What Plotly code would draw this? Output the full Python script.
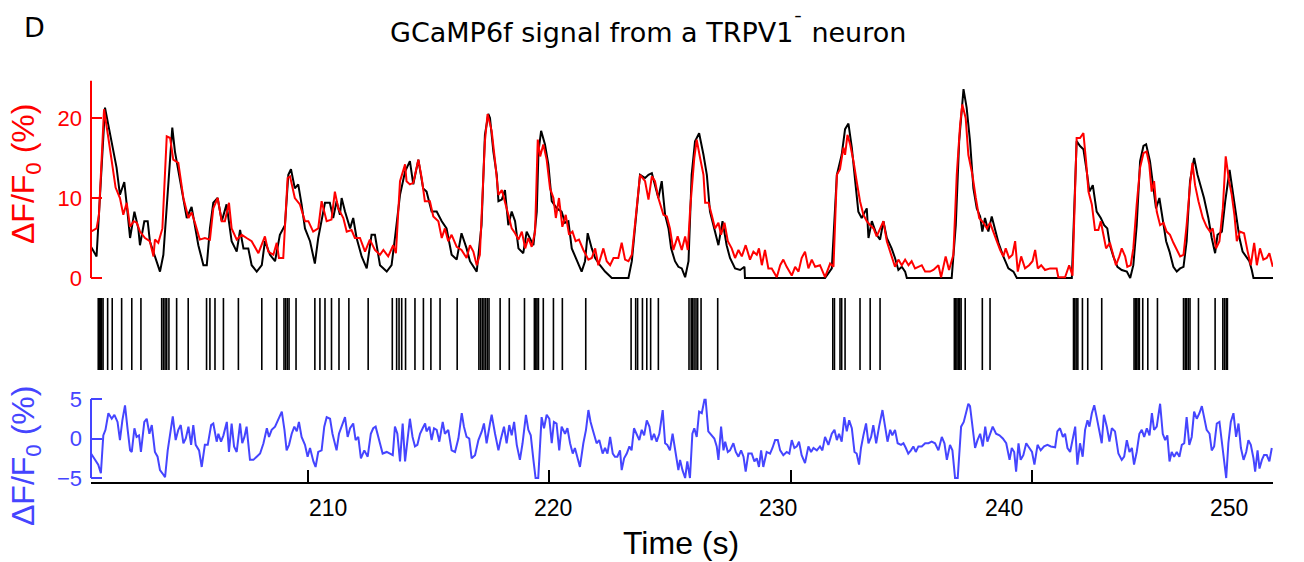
import plotly.graph_objects as go

# ---------------- data ----------------
black_t = [201.0, 201.23, 201.58, 201.86, 202.06, 202.2, 202.38, 202.48, 202.62, 202.8, 202.96, 203.03, 203.21, 203.35, 203.44, 203.65, 203.86, 204.0, 204.37, 204.48, 204.62, 204.83, 204.97, 205.17, 205.31, 205.45, 205.66, 205.8, 205.93, 206.07, 206.25, 206.42, 206.62, 206.83, 207.04, 207.18, 207.32, 207.52, 207.66, 207.87, 208.08, 208.21, 208.42, 208.63, 208.83, 209.04, 209.18,
           209.29, 209.45, 209.59, 209.73, 209.87, 210.08, 210.28, 210.42, 210.56, 210.7, 210.9, 211.04, 211.18, 211.32, 211.39, 211.53, 211.74, 211.87, 212.01, 212.22, 212.43, 212.63, 212.77, 212.98, 213.26, 213.46, 213.6, 213.81, 214.02, 214.22, 214.36, 214.57, 214.77, 214.91, 215.12, 215.33, 215.54, 215.74, 215.95, 216.16, 216.36, 216.57, 216.71, 216.99, 217.19, 217.33, 217.47,
           217.54, 217.68, 217.82, 217.89, 218.03, 218.16, 218.23, 218.3, 218.44, 218.58, 218.72, 218.92, 219.06, 219.2, 219.34, 219.48, 219.55, 219.66, 219.82, 219.96, 220.1, 220.31, 220.51, 220.65, 220.79, 220.93, 221.14, 221.34, 221.48, 221.59, 221.76, 221.9, 222.1, 222.31, 222.59, 223.28, 223.42, 223.62, 223.76, 223.97, 224.11, 224.25, 224.38, 224.52, 224.66, 224.8, 224.94, 225.05, 225.21, 225.35, 225.49, 225.63,
           225.77, 225.9, 226.04, 226.21, 226.39, 226.53, 226.66, 226.8, 226.94, 227.01, 227.18, 227.35, 227.49, 227.7, 227.91, 228.09, 228.11, 231.43, 231.71, 231.92, 232.12, 232.26, 232.4, 232.54, 232.68, 232.81, 232.95, 233.16, 233.23, 233.37, 233.57, 233.71, 233.85, 233.99,
           234.19, 234.33, 234.47, 234.61, 234.75, 234.82, 236.68, 236.85, 236.99, 237.17, 237.3, 237.44, 237.58, 237.72, 237.86, 237.95, 238.06, 238.2, 238.34, 238.48, 238.62, 238.82, 239.03, 239.24, 239.38, 241.66, 241.86,
           242.0, 242.14, 242.28, 242.39, 242.53, 242.69, 242.86, 243.0, 243.13, 243.24, 243.38, 243.55, 243.73, 243.94, 244.08, 244.21, 244.35, 244.49, 244.63, 244.74, 244.9, 245.04, 245.15, 245.29, 245.43, 245.57, 245.71, 245.87, 246.01, 246.15, 246.29, 246.42, 246.56, 246.73, 246.87, 247.0, 247.14, 247.32, 247.46, 247.6, 247.7, 247.88, 248.02, 248.2, 248.33, 248.47, 248.61, 248.74, 248.88, 249.02, 249.12, 249.19, 250.0]
black_v = [3.9, 2.7, 21.3, 17.1, 13.8, 10.4, 12.0, 9.2, 5.0, 8.3, 6.2, 4.1, 7.1, 7.1, 4.6, 2.7, 0.8, 2.9, 18.8, 15.8, 13.3, 10.0, 7.5, 8.9, 6.4, 4.1, 1.6, 1.6, 6.2, 9.4, 10.0, 7.1, 9.2, 4.6, 3.3, 6.0, 3.7, 3.7, 1.6, 0.8, 1.6, 4.6, 2.9, 2.1, 5.4, 6.6, 12.9,
           13.6, 11.2, 11.7, 9.2, 6.2, 4.6, 1.8, 5.0, 7.1, 9.4, 9.4, 7.5, 9.6, 7.9, 10.0, 8.3, 6.2, 7.5, 5.0, 2.7, 1.2, 5.4, 5.4, 1.6, 0.8, 1.6, 5.0, 10.4, 13.3, 14.6, 11.7, 14.8, 11.2, 10.8, 8.3, 8.3, 7.1, 6.2, 2.9, 2.3, 5.6, 3.7, 2.1, 0.8, 6.6, 17.9, 20.5,
           20.0, 15.8, 12.9, 9.6, 9.8, 11.0, 8.7, 6.6, 8.3, 7.1, 3.7, 3.1, 5.8, 5.0, 4.1, 8.3, 15.8, 18.4, 16.7, 14.2, 9.6, 8.7, 8.3, 6.9, 7.1, 3.7, 2.1, 0.8, 2.1, 5.6, 3.7, 2.5, 1.6, 0.8, 0.0, 0.0, 2.1, 8.7, 12.9, 12.5, 12.9, 13.1, 11.7, 10.0, 12.1, 7.9, 6.2, 3.7, 2.1, 1.4, 1.2, 0.1,
           2.1, 12.9, 17.1, 18.1, 15.4, 12.9, 8.3, 6.6, 5.0, 4.1, 7.1, 4.1, 2.5, 1.2, 1.0, 1.4, 0.0, 0.0, 1.2, 12.9, 15.4, 18.6, 19.3, 16.3, 12.1, 8.3, 7.5, 8.7, 5.0, 7.1, 5.4, 4.8, 7.1, 5.0,
           3.7, 2.5, 1.0, 1.4, 0.8, 0.0, 0.0, 6.6, 17.1, 23.6, 21.3, 17.1, 11.2, 8.7, 7.7, 5.8, 7.5, 5.8, 7.7, 6.2, 4.4, 2.7, 1.2, 0.8, 0.0, 0.0, 17.1,
           16.5, 16.1, 13.3, 10.8, 11.6, 8.3, 7.5, 6.6, 6.2, 4.1, 2.7, 1.4, 1.0, 0.8, 0.0, 1.6, 6.6, 14.6, 16.5, 16.7, 14.6, 11.6, 8.7, 10.0, 7.1, 4.6, 3.3, 1.4, 0.8, 1.2, 1.4, 4.6, 12.1, 15.0, 12.9, 11.6, 10.0, 7.5, 5.0, 3.1, 5.4, 5.8, 9.6, 13.5, 10.8, 7.5, 5.0, 3.3, 2.7, 2.1, 1.0, 0.0, 0.0]

red_t = [201.0, 201.23, 201.33, 201.54, 201.72, 201.86, 202.02, 202.2, 202.34, 202.48, 202.62, 202.77, 202.9, 203.03, 203.24, 203.44, 203.59, 203.65, 203.79, 203.96, 204.14, 204.28, 204.41, 204.62, 204.83, 205.04, 205.17, 205.31, 205.51, 205.72, 205.93, 206.07, 206.25, 206.42, 206.55, 206.72, 206.83, 207.04, 207.25, 207.45, 207.66, 207.94, 208.21, 208.35, 208.56, 208.7, 208.79, 208.97, 209.15,
         209.25, 209.45, 209.66, 209.87, 210.01, 210.21, 210.42, 210.56, 210.77, 210.97, 211.11, 211.25, 211.46, 211.6, 211.8, 211.94, 212.15, 212.36, 212.56, 212.77, 212.98, 213.12, 213.32, 213.53, 213.64, 213.81, 214.02, 214.08, 214.22, 214.36, 214.57, 214.71, 214.84, 215.05, 215.19, 215.4, 215.54, 215.67, 215.81, 215.95, 216.16, 216.36, 216.57, 216.71, 216.85, 216.99, 217.12, 217.33, 217.44,
         217.61, 217.75, 217.89, 218.03, 218.16, 218.3, 218.44, 218.58, 218.72, 218.86, 219.0, 219.13, 219.27, 219.41, 219.52, 219.62, 219.75, 219.89, 220.03, 220.17, 220.27, 220.4, 220.54, 220.68, 220.82, 220.96, 221.09, 221.23, 221.41, 221.62, 221.76, 221.9, 222.03, 222.24, 222.38, 222.52, 222.66, 222.86, 223.0, 223.14, 223.28, 223.42, 223.62, 223.76, 223.97, 224.11, 224.25, 224.38, 224.52, 224.73, 224.87, 225.0, 225.14, 225.32, 225.49, 225.63, 225.74, 225.84,
         226.01, 226.11, 226.25, 226.39, 226.46, 226.6, 226.73, 226.87, 227.01, 227.12, 227.26, 227.4, 227.56, 227.7, 227.84, 227.98, 228.14, 228.32, 228.46, 228.6, 228.69, 228.81, 228.94, 229.08, 229.22, 229.43, 229.57, 229.7, 229.84, 230.05, 230.19, 230.33, 230.46, 230.6, 230.74, 230.88, 231.02, 231.22, 231.43, 231.64, 231.78, 231.92, 232.05, 232.19, 232.26, 232.36, 232.47, 232.61, 232.74, 232.88, 233.02, 233.16, 233.3, 233.44, 233.57, 233.71, 233.85, 233.99,
         234.19, 234.33, 234.47, 234.61, 234.75, 234.89, 235.02, 235.16, 235.3, 235.44, 235.58, 235.78, 235.92, 236.13, 236.24, 236.43, 236.57, 236.75, 236.89, 237.03, 237.12, 237.26, 237.37, 237.54, 237.68, 237.82, 238.0, 238.14, 238.27, 238.41, 238.55, 238.69, 238.82, 238.92, 239.06, 239.2, 239.31, 239.42, 239.56, 239.72, 239.89, 240.03, 240.14, 240.25, 240.39, 240.55, 240.76, 241.03, 241.1, 241.38, 241.55, 241.69, 241.86,
         242.0, 242.14, 242.25, 242.35, 242.49, 242.62, 242.76, 242.86, 242.97, 243.08, 243.24, 243.38, 243.49, 243.63, 243.73, 243.87, 243.96, 244.1, 244.21, 244.35, 244.49, 244.63, 244.76, 244.87, 244.97, 245.07, 245.18, 245.32, 245.46, 245.59, 245.73, 245.87, 246.01, 246.15, 246.29, 246.42, 246.56, 246.66, 246.77, 246.91, 247.09, 247.25, 247.39, 247.5, 247.64, 247.78, 247.92, 248.04, 248.18, 248.29, 248.4, 248.5, 248.63, 248.8, 248.95, 249.08, 249.22, 249.33, 249.46, 249.6, 249.74, 249.85, 249.99]
red_v = [5.8, 6.2, 7.9, 21.1, 17.5, 14.6, 11.3, 10.0, 7.9, 9.4, 6.4, 7.1, 6.9, 5.8, 5.0, 4.6, 2.7, 4.8, 4.4, 6.2, 17.7, 17.5, 14.8, 14.4, 10.0, 7.5, 8.2, 6.9, 4.8, 5.0, 4.8, 8.7, 10.0, 7.1, 7.1, 9.4, 6.2, 4.8, 5.4, 5.0, 4.6, 3.1, 5.2, 3.3, 2.9, 4.4, 2.5, 2.5, 12.5,
         12.7, 10.0, 9.2, 7.1, 7.1, 5.8, 6.2, 9.6, 7.1, 7.3, 10.8, 8.7, 7.5, 5.8, 6.0, 5.0, 5.0, 3.3, 4.8, 3.5, 2.9, 3.5, 2.7, 4.1, 3.1, 12.1, 14.2, 12.1, 11.7, 11.9, 14.8, 12.5, 9.6, 9.6, 7.7, 7.1, 5.0, 6.2, 4.6, 5.4, 3.9, 3.5, 2.5, 4.1, 3.3, 1.6, 2.9, 17.1, 20.5,
         18.4, 14.6, 10.4, 11.0, 9.6, 7.9, 6.2, 5.6, 4.8, 5.8, 3.7, 5.0, 3.9, 5.8, 17.3, 15.2, 16.7, 14.8, 11.2, 10.0, 7.5, 10.0, 6.4, 7.9, 5.4, 5.8, 4.6, 4.8, 3.5, 2.3, 2.5, 3.7, 1.6, 3.7, 2.1, 1.6, 2.5, 2.5, 4.4, 2.3, 2.1, 2.9, 8.7, 12.9, 12.1, 9.8, 12.7, 12.1, 10.0, 7.9, 7.7, 6.2, 3.5, 5.2, 3.5, 5.2, 3.5, 8.7,
         15.0, 17.3, 15.0, 12.9, 9.4, 9.4, 7.9, 6.2, 6.9, 5.4, 6.9, 4.6, 3.7, 2.5, 3.5, 2.7, 4.1, 2.3, 3.3, 2.9, 3.7, 1.6, 3.5, 1.2, 1.2, 0.1, 1.6, 2.3, 1.4, 0.3, 1.4, 0.8, 2.5, 3.3, 1.2, 2.3, 1.4, 1.6, 0.1, 1.8, 1.4, 12.9, 13.6, 16.3, 15.4, 17.9, 16.7, 14.6, 12.1, 9.6, 7.9, 7.1, 6.6, 6.2, 5.2, 6.2, 7.1, 4.6,
         2.7, 1.4, 2.3, 1.6, 2.3, 1.6, 2.1, 1.2, 1.4, 1.6, 0.8, 0.8, 1.0, 1.6, 0.1, 2.7, 1.0, 2.9, 12.9, 19.2, 21.7, 20.0, 15.4, 12.9, 10.0, 7.5, 6.9, 6.2, 6.9, 5.6, 4.6, 3.5, 2.7, 3.7, 2.5, 2.9, 4.6, 0.8, 2.7, 1.2, 1.6, 2.1, 3.5, 1.2, 1.6, 1.0, 1.2, 1.2, 0.1, 0.1, 1.6, 0.3, 17.5,
         17.5, 18.1, 14.6, 10.8, 9.2, 6.0, 6.0, 7.1, 5.4, 3.7, 4.4, 2.9, 1.6, 2.7, 3.7, 2.7, 1.4, 1.6, 3.7, 9.2, 13.8, 15.6, 15.8, 14.2, 10.8, 12.1, 8.3, 6.6, 6.9, 5.8, 5.4, 4.4, 3.5, 2.7, 2.9, 6.6, 11.6, 14.4, 11.6, 9.6, 7.5, 6.4, 5.8, 6.2, 3.7, 4.6, 8.7, 15.2, 12.1, 10.4, 7.9, 4.6, 5.8, 5.6, 3.3, 1.6, 4.4, 1.6, 3.7, 2.3, 2.5, 3.1, 1.4]

spike_times = [201.30, 201.34, 201.39, 201.44, 201.50, 201.69, 201.88, 202.27, 202.69, 203.07, 203.93, 204.00, 204.07, 204.14, 204.23, 204.55, 205.03, 205.79, 205.93, 206.14, 206.49, 207.11, 208.08, 208.70, 209.00, 209.07, 209.14, 209.21, 209.50, 210.28, 210.49, 210.70, 210.97, 211.28, 211.69, 212.49, 213.49, 213.67, 213.77, 213.88, 214.04, 214.43, 214.78, 215.09, 215.47, 216.18, 217.08, 217.15, 217.22, 217.29, 217.36, 217.43, 217.50, 217.96, 218.34, 218.97, 219.38, 219.44, 219.49, 219.55, 219.75, 220.17, 220.54, 221.51, 223.39, 223.58, 223.66, 223.86, 224.04, 224.20, 224.52, 225.79, 225.88, 225.93, 226.00, 226.08, 226.15, 226.29, 226.98, 231.75, 231.82, 232.05, 232.12, 232.26, 232.88, 233.30, 233.71, 236.79, 236.85, 236.90, 236.96, 237.01, 237.07, 237.24, 237.95, 238.27, 241.73, 241.78, 241.84, 241.91, 242.10, 242.32, 242.90, 244.24, 244.30, 244.35, 244.41, 244.46, 244.60, 244.81, 245.21, 246.29, 246.36, 246.42, 246.49, 246.56, 246.91, 247.60, 247.92, 247.99, 248.06, 248.11]

blue_t = [201.0, 201.16, 201.3, 201.41, 201.51, 201.6, 201.72, 201.86, 201.97, 202.1, 202.2, 202.3, 202.41, 202.52, 202.62, 202.69, 202.8, 202.89, 202.99, 203.07, 203.21, 203.31, 203.42, 203.52, 203.65, 203.76, 203.86, 203.96, 204.07, 204.18, 204.27, 204.39, 204.51, 204.62, 204.72, 204.83, 204.93, 205.04, 205.15, 205.24, 205.34, 205.48, 205.59, 205.72, 205.84, 205.98, 206.07, 206.21, 206.28, 206.39, 206.49, 206.63, 206.72, 206.83, 206.93, 207.04, 207.18, 207.27, 207.36, 207.45, 207.59, 207.73, 207.87, 208.01, 208.15, 208.29, 208.38, 208.49, 208.63, 208.77, 208.91, 209.02, 209.11, 209.21, 209.32, 209.43, 209.53, 209.62, 209.73, 209.87, 209.98, 210.08, 210.22, 210.31, 210.42, 210.56, 210.67, 210.77, 210.91, 211.01, 211.12, 211.18, 211.28, 211.42, 211.53, 211.64, 211.74, 211.87, 211.97, 212.08, 212.19, 212.33, 212.47, 212.6, 212.7, 212.8, 212.91, 213.05,
          213.09, 213.26, 213.39, 213.51, 213.6, 213.7, 213.81, 213.92, 214.02, 214.11, 214.22, 214.33, 214.43, 214.53, 214.64, 214.75, 214.85, 214.91, 215.03, 215.12, 215.22, 215.33, 215.44, 215.58, 215.67, 215.81, 215.95, 216.09, 216.23, 216.37, 216.46, 216.57, 216.68, 216.78, 216.92, 217.06, 217.2, 217.29, 217.4, 217.54, 217.61, 217.75, 217.89, 217.98, 218.12, 218.23, 218.34, 218.44, 218.54, 218.65, 218.78, 218.89, 219.03, 219.13, 219.23, 219.34, 219.43, 219.54, 219.61, 219.68, 219.78, 219.89, 220.0, 220.1, 220.19, 220.3, 220.41, 220.51, 220.65, 220.75, 220.86, 220.97, 221.06, 221.16, 221.27, 221.41, 221.52, 221.62, 221.71, 221.82, 221.96, 222.07, 222.21, 222.31, 222.41, 222.52, 222.63, 222.72, 222.82, 222.93, 223.0, 223.1, 223.21, 223.32, 223.41, 223.51, 223.62, 223.73, 223.83, 223.93, 224.04, 224.15, 224.24, 224.34, 224.45, 224.56, 224.7, 224.8, 224.89, 225.0, 225.11, 225.21, 225.35,
          225.42, 225.52, 225.63, 225.72, 225.83, 225.93, 226.01, 226.11, 226.21, 226.32, 226.43, 226.48, 226.59, 226.73, 226.84, 226.94, 227.01, 227.12, 227.22, 227.29, 227.4, 227.49, 227.63, 227.73, 227.84, 227.95, 228.05, 228.14, 228.25, 228.39, 228.5, 228.6, 228.69, 228.78, 228.87, 229.01, 229.15, 229.25, 229.36, 229.47, 229.57, 229.7, 229.84, 229.95, 230.05, 230.16, 230.26, 230.35, 230.46, 230.6, 230.74, 230.85, 230.95, 231.09, 231.22, 231.32, 231.43, 231.57, 231.71, 231.82, 231.92, 232.01, 232.12, 232.23, 232.33, 232.43, 232.54, 232.65, 232.74, 232.84, 232.92, 233.02, 233.13, 233.23, 233.34, 233.43, 233.55, 233.67, 233.81, 233.92, 234.02, 234.13, 234.22, 234.33, 234.44, 234.58, 234.68, 234.78, 234.88, 234.99, 235.09, 235.19, 235.3, 235.44, 235.58, 235.72, 235.85, 235.99, 236.13, 236.27, 236.38, 236.48, 236.61, 236.71, 236.82, 236.93, 237.07, 237.18, 237.26, 237.37,
          237.44, 237.55, 237.65, 237.75, 237.86, 237.97, 238.07, 238.16, 238.27, 238.38, 238.52, 238.66, 238.8, 238.94, 239.08, 239.17, 239.27, 239.35, 239.45, 239.54, 239.65, 239.77, 239.9, 240.01, 240.11, 240.24, 240.37, 240.51, 240.65, 240.79, 240.97, 241.06, 241.17, 241.29, 241.38, 241.48, 241.59, 241.7, 241.8, 241.89, 242.0, 242.11, 242.21, 242.31, 242.39, 242.49, 242.59, 242.69, 242.81, 242.9, 242.99, 243.11, 243.22, 243.32, 243.45, 243.59, 243.73, 243.83, 243.94, 244.05, 244.15, 244.24, 244.35, 244.46, 244.56, 244.66, 244.77, 244.88, 244.98, 245.07, 245.18, 245.32, 245.43, 245.53, 245.62, 245.71, 245.8, 245.9, 246.01, 246.12, 246.22, 246.32, 246.42, 246.53, 246.63, 246.73, 246.84, 246.95, 247.05, 247.14, 247.25, 247.37, 247.46, 247.56, 247.67, 247.78, 247.88, 247.97, 248.06, 248.15, 248.25, 248.36, 248.47, 248.57, 248.67, 248.78, 248.89, 248.98, 249.08, 249.19, 249.26, 249.36, 249.44, 249.54, 249.63, 249.74, 249.85, 249.95]
blue_v = [-1.9, -2.7, -3.3, -4.4, 0.4, 1.1, 3.2, 2.5, 3.0, 2.1, -0.2, 2.3, 4.2, 1.1, -1.5, -1.7, 1.3, 0.2, 0.4, -1.7, 2.1, 2.5, 0.6, 1.7, -1.7, -2.3, -4.0, -4.4, -4.9, -1.5, 0.6, 2.8, -0.2, 1.1, 1.7, -0.6, 0.0, 1.5, -0.8, 1.7, -0.8, -1.5, -3.6, -0.8, -0.8, 1.7, 1.9, -0.4, 0.6, -0.4, 0.4, 2.1, -1.7, 1.9, -1.0, -1.7, 1.9, -0.6, 0.2, 1.5, -2.7, -2.7, -2.3, -1.9, -0.6, 1.3, 0.2, 1.1, 1.5, 2.5, 3.4, 1.1, -1.5, -0.8, 0.6, 1.5, 0.9, 2.1, 0.2, -0.8, -2.3, -1.2, -2.9, -3.6, -1.7, -1.5, 1.5, 2.7, 2.5, 0.6, -1.0, -1.5, 0.6, 1.9, 2.7, 0.2, 1.3, 1.9, -0.2, 0.2, -2.5, -1.5, -2.3, 0.6, 1.3, 1.5, 0.2, -1.7,
          -1.9, -1.7, -1.9, -2.1, 1.5, 0.6, -2.9, 1.9, -2.9, -0.6, 2.5, 0.2, -1.0, -0.8, 0.6, 1.3, 1.9, 0.9, 1.5, -0.2, 1.3, 1.1, -0.4, 2.1, 0.6, 1.1, -1.5, -1.7, 0.0, 3.2, 1.5, 0.2, 0.0, -2.5, -2.1, -0.2, 0.9, 1.9, -0.6, 1.9, 3.0, 0.6, -1.5, -0.2, 1.5, -0.6, 1.7, 0.4, 2.1, -0.8, -2.7, -0.6, 3.0, 1.1, 0.4, -2.7, -5.0, -5.0, -0.2, 2.7, 1.3, 3.0, 2.5, -0.6, 2.1, 1.9, -1.5, 1.5, 0.6, 1.3, -0.6, -1.9, -1.2, -2.3, -3.6, -0.6, 1.1, 3.6, 2.1, 0.9, -0.6, -0.2, -1.9, -1.2, -1.9, 0.2, -1.9, -2.3, -2.3, -1.5, -4.0, -2.5, -1.9, -1.0, -1.5, 1.3, 0.6, -0.2, 1.1, 0.4, 2.3, 1.5, -0.2, 0.6, -0.4, 0.6, 3.6, -0.6, -0.8, -1.5, 0.6, -1.2, -4.0,
          -2.7, -4.0, -5.0, -2.9, -5.0, 0.6, 1.3, 0.2, 3.4, 3.2, 4.9, 4.9, 0.9, 0.4, 0.0, -1.0, -2.7, 1.5, -1.5, -0.4, -1.7, -1.5, -0.6, -1.7, -2.3, -1.5, -2.3, -4.2, -1.9, -1.9, -2.9, -2.5, -3.6, -1.5, -3.6, -1.7, -1.9, -1.2, -0.2, -0.2, -1.5, -2.1, -1.7, -1.9, -0.2, -1.2, -1.0, -0.4, -2.1, -3.1, -1.0, -1.7, -1.2, -1.5, -1.0, -1.5, 0.2, -0.8, 0.6, 1.1, -0.2, 0.6, -0.4, 2.7, 0.9, 2.3, 1.3, -1.7, -1.9, -3.3, -1.2, 0.4, 1.9, -0.6, 0.2, 1.7, -0.6, 1.5, 3.6, 1.5, -0.4, 1.1, 0.4, 1.1, -0.6, -0.8, -0.6, -1.2, -1.9, -1.5, -1.0, -1.7, -1.0, -1.0, -0.6, -0.6, -0.4, -0.6, -1.5, 0.2, -0.6, -2.7, -0.8, -1.5, -5.0, -5.0, 1.5, 2.1, 3.2, 4.4,
          4.1, 1.1, -1.2, -0.2, 0.6, -1.0, 1.5, -0.4, 0.6, 1.5, 0.6, 0.4, 0.0, -0.6, -2.7, -1.2, -1.7, -4.2, -0.6, -2.7, -2.1, -0.6, -1.2, -1.7, -3.3, -0.8, -1.5, -1.0, -0.8, -1.0, -1.1, 0.9, 1.3, 0.2, 0.6, -1.2, -1.7, 0.2, 1.5, -3.3, -0.6, -2.3, 1.1, 2.3, 1.5, 3.2, 4.2, 2.7, 0.6, -0.6, 3.0, 1.5, -0.4, 1.3, 0.9, -1.9, -2.7, -2.3, -0.2, -1.7, -1.2, -3.3, -1.7, 0.6, 1.1, 0.2, 1.3, 0.4, 3.2, 1.1, 1.5, 4.4, 0.6, -0.2, 0.4, -2.9, -1.7, -2.3, -1.7, -2.3, -0.8, -0.6, 2.7, -0.8, 0.2, 3.4, 2.5, 3.2, 4.1, 2.7, 1.1, 0.6, -1.5, -1.0, 1.9, 2.1, -0.6, -3.1, -5.0, -0.6, 2.1, 3.2, 0.2, 1.9, -1.2, -2.7, -1.7, -0.2, -0.8, -2.5, -4.2, -1.5, -3.8, -2.7, -2.1, -2.1, -2.9, -1.2]

x_range = [201, 250]
top_ticks = [0, 10, 20]
bottom_ticks = [-5, 0, 5]
time_ticks = [210, 220, 230, 240, 250]
time_tick_labels = ["210", "220", "230", "240", "250"]
# reference draws the labels a little left of the tick marks (pixel centres)
time_label_px = [328, 553, 778, 1004, 1229]

# ---------------- layout helpers ----------------
W, H = 1304, 562
XL, XR = 91, 1273


def fy(p):
    return 1 - p / H


RED = "#ff0000"
BLUE = "#4545ff"
LABEL_FONT = "Liberation Sans, Arial, sans-serif"
TITLE_FONT = "DejaVu Sans, Verdana, sans-serif"

fig = go.Figure()

fig.add_trace(go.Scatter(x=black_t, y=black_v, mode="lines",
                         line=dict(color="black", width=2), xaxis="x", yaxis="y"))
fig.add_trace(go.Scatter(x=red_t, y=red_v, mode="lines",
                         line=dict(color=RED, width=2), xaxis="x", yaxis="y"))

rx, ry = [], []
for s in spike_times:
    rx += [s, s, None]
    ry += [0, 1, None]
fig.add_trace(go.Scatter(x=rx, y=ry, mode="lines", line=dict(color="black", width=1.6),
                         xaxis="x2", yaxis="y2"))

fig.add_trace(go.Scatter(x=blue_t, y=blue_v, mode="lines",
                         line=dict(color=BLUE, width=2), xaxis="x3", yaxis="y3"))

xdom = [XL / W, XR / W]
fig.update_layout(
    width=W, height=H, margin=dict(l=0, r=0, t=0, b=0, autoexpand=False),
    paper_bgcolor="white", plot_bgcolor="white", showlegend=False,
    xaxis=dict(domain=xdom, range=x_range, visible=False, anchor="y"),
    yaxis=dict(domain=[fy(280.4), fy(80.4)], range=[-0.3, 24.7], anchor="x",
               showgrid=False, zeroline=False, showline=False, automargin=False,
               ticks="inside", ticklen=11, tickwidth=2, tickcolor=RED,
               tickvals=top_ticks, ticklabelstandoff=8,
               tickfont=dict(color=RED, size=22, family=LABEL_FONT)),
    xaxis2=dict(domain=xdom, range=x_range, visible=False, anchor="y2"),
    yaxis2=dict(domain=[fy(370), fy(298)], range=[0, 1], visible=False, anchor="x2"),
    xaxis3=dict(domain=xdom, range=x_range, anchor="y3", showgrid=False, zeroline=False,
                showline=True, linecolor="black", linewidth=2, automargin=False,
                ticks="inside", ticklen=12, tickwidth=2, tickcolor="black",
                tickvals=time_ticks, showticklabels=False),
    yaxis3=dict(domain=[fy(482), fy(397.4)], range=[-5.5, 5.2], anchor="x3",
                showgrid=False, zeroline=False, showline=False, automargin=False,
                ticks="inside", ticklen=11, tickwidth=2, tickcolor=BLUE,
                tickvals=bottom_ticks, ticklabelstandoff=8,
                tickfont=dict(color=BLUE, size=22, family=LABEL_FONT)),
)

# y-axis lines (drawn only over the labelled span, as in the reference)
fig.add_shape(type="line", xref="paper", yref="y", x0=XL / W, x1=XL / W, y0=0, y1=24.7,
              line=dict(color=RED, width=2))
fig.add_shape(type="line", xref="paper", yref="y3", x0=XL / W, x1=XL / W, y0=-5, y1=5,
              line=dict(color=BLUE, width=2))

ann = []
for lab, p in zip(time_tick_labels, time_label_px):
    ann.append(dict(text=lab, x=p / W, y=fy(508), xref="paper", yref="paper",
                    xanchor="center", yanchor="middle", showarrow=False,
                    font=dict(size=23, color="black", family=LABEL_FONT)))
ann.append(dict(text="Time (s)", x=681 / W, y=fy(543), xref="paper", yref="paper",
                xanchor="center", yanchor="middle", showarrow=False,
                font=dict(size=32, color="black", family=LABEL_FONT)))
ann.append(dict(text="ΔF/F<sub>0</sub> (%)", x=25 / W, y=fy(174), xref="paper", yref="paper",
                xanchor="center", yanchor="middle", textangle=-90, showarrow=False,
                font=dict(size=32, color=RED, family=LABEL_FONT)))
ann.append(dict(text="ΔF/F<sub>0</sub> (%)", x=25 / W, y=fy(456), xref="paper", yref="paper",
                xanchor="center", yanchor="middle", textangle=-90, showarrow=False,
                font=dict(size=32, color=BLUE, family=LABEL_FONT)))
ann.append(dict(text="GCaMP6f signal from a TRPV1<sup>¯</sup> neuron", x=648 / W, y=fy(30),
                xref="paper", yref="paper", xanchor="center", yanchor="middle",
                showarrow=False, font=dict(size=27, color="black", family=TITLE_FONT)))
ann.append(dict(text="D", x=34 / W, y=fy(28), xref="paper", yref="paper",
                xanchor="center", yanchor="middle", showarrow=False,
                font=dict(size=27, color="black", family=TITLE_FONT)))
fig.update_layout(annotations=ann)

fig.write_html("out.html")
